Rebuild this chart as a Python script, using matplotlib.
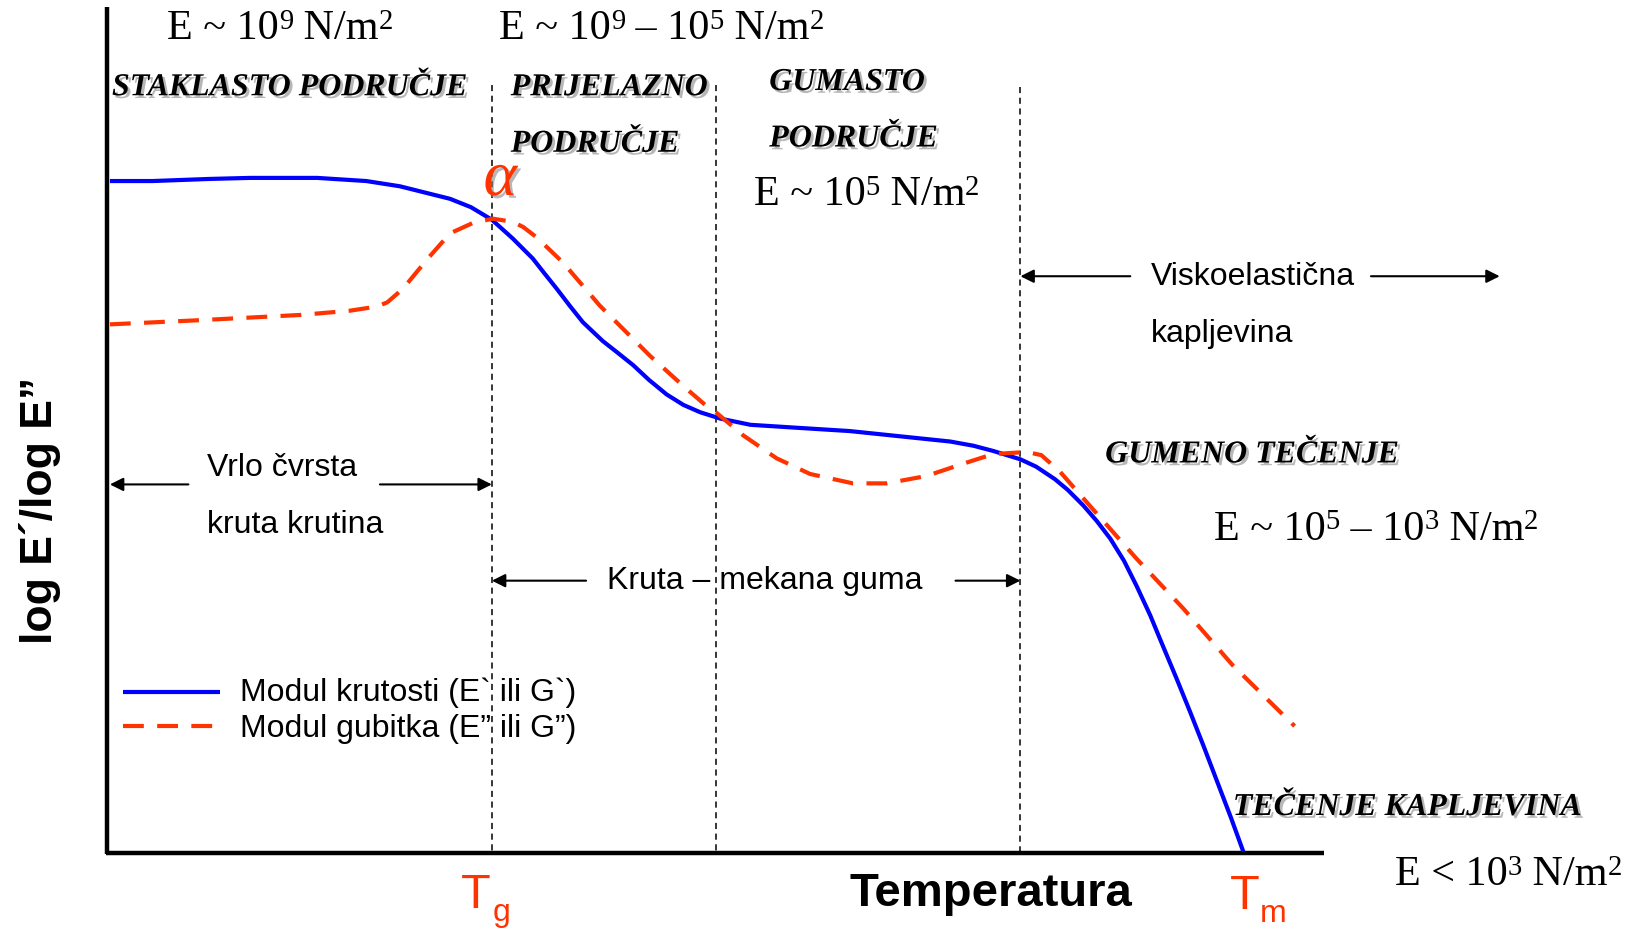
import matplotlib
matplotlib.use('Agg')
import matplotlib.pyplot as plt
import matplotlib.patheffects as pe

# Reference layout units (shown-image pixels, y downward)
W, H = 1568, 888

# Storage modulus (blue, solid): temperature position vs log E' (schematic)
storage_T = [105, 146, 200, 239, 303, 350, 382, 410, 430, 450, 470, 490, 509, 520,
             532, 545, 557, 576, 590, 605, 620, 637, 653, 669, 688, 717, 764, 812,
             860, 908, 930, 949, 962, 975, 990, 1008, 1020, 1035, 1048, 1061, 1074,
             1086, 1099, 1111, 1124, 1137, 1150, 1163, 1176, 1188]
storage_E = [174, 174, 172, 171, 171, 174, 179, 186, 191, 199, 211, 229, 248, 262,
             277, 294, 309, 327, 338, 350, 364, 378, 388, 395, 401, 407, 410, 413,
             418, 423, 427, 432, 436, 440, 447, 459, 469, 484, 499, 516, 537,
             561, 589, 618, 649, 681, 714, 748, 782, 815]

# Loss modulus (red, dashed)
loss_T = [105, 191, 287, 334, 360, 370, 385, 408, 430, 452, 471, 490, 500, 513,
          538, 573, 621, 653, 675, 684, 710, 742, 774, 815, 847, 885, 924, 949,
          981, 995, 1013, 1041, 1086, 1131, 1178, 1237]
loss_E = [311, 307, 302, 298, 294, 290, 277, 249, 224, 214, 210, 213, 218, 228,
          252, 293, 341, 370, 389, 395, 417, 439, 454, 463, 463, 456, 443, 435,
          433, 436, 452, 484, 535, 583, 637, 695]

region_bounds = [470, 684, 975]
legend_labels = ['Modul krutosti (E` ili G`)', 'Modul gubitka (E\u201d ili G\u201d)']
region_names = ['STAKLASTO PODRU\u010cJE', 'PRIJELAZNO', 'PODRU\u010cJE', 'GUMASTO',
                'PODRU\u010cJE', 'GUMENO TE\u010cENJE', 'TE\u010cENJE KAPLJEVINA']
modulus_ranges = [
    [('E ~ 10', 0), ('9', 1), (' N/m', 0), ('2', 1)],
    [('E ~ 10', 0), ('9', 1), (' \u2013 10', 0), ('5', 1), (' N/m', 0), ('2', 1)],
    [('E ~ 10', 0), ('5', 1), (' N/m', 0), ('2', 1)],
    [('E ~ 10', 0), ('5', 1), (' \u2013 10', 0), ('3', 1), (' N/m', 0), ('2', 1)],
    [('E < 10', 0), ('3', 1), (' N/m', 0), ('2', 1)],
]
x_title = 'Temperatura'
y_title = 'log E\u00b4/log E\u201d'

BLUE = '#0000FF'
RED = '#FF3300'
SANS = 'Liberation Sans'
SERIF = 'Liberation Serif'

fig = plt.figure(figsize=(16.41, 9.29), dpi=100)
ax = fig.add_axes([0, 0, 1, 1])
ax.set_xlim(0, W)
ax.set_ylim(H, 0)
ax.axis('off')
renderer = fig.canvas.get_renderer()
sx = fig.bbox.width / W
sy = fig.bbox.height / H

# axes lines
ax.plot([102.5, 102.5], [8, 817], color='k', lw=3.2, solid_capstyle='butt')
ax.plot([101, 1265], [816, 816], color='k', lw=3.2, solid_capstyle='butt')

# dashed region boundaries
for xb, y0 in zip(region_bounds, [82, 82, 84]):
    ax.plot([xb, xb], [y0, 815], color='k', lw=1.1, dashes=(4, 3))

# curves
ax.plot(storage_T, storage_E, color=BLUE, lw=3.0, solid_capstyle='butt',
        solid_joinstyle='round')
ax.plot(loss_T, loss_E, color=RED, lw=3.0, dashes=(5, 3.2), dash_joinstyle='round')

# legend
ax.plot([118, 210], [662, 662], color=BLUE, lw=3.0, solid_capstyle='butt')
ax.plot([118, 210], [695, 695], color=RED, lw=3.0, dashes=(5, 3.2))


def sans(x, y, s, size=23):
    ax.text(x, y, s, fontsize=size, family=SANS, va='center', ha='left')


sans(229, 662, legend_labels[0])
sans(229, 697, legend_labels[1])


# serif modulus labels with real superscripts
def measure(s, **kw):
    t = ax.text(0, 0, s + '|', **kw)
    w1 = t.get_window_extent(renderer).width
    t.set_text('|')
    w2 = t.get_window_extent(renderer).width
    t.remove()
    return (w1 - w2) / sx


def rich(x, base_y, parts, size=30.3):
    cx = x
    for s, sup in parts:
        fs = size * 0.68 if sup else size
        yy = base_y - (0.25 * size * 100 / 72) / sy if sup else base_y
        ax.text(cx, yy, s, fontsize=fs, family=SERIF, va='baseline', ha='left')
        cx += measure(s, fontsize=fs, family=SERIF)


rich(160, 37.6, modulus_ranges[0])
rich(477, 37.6, modulus_ranges[1])
rich(720, 196, modulus_ranges[2])
rich(1160, 516, modulus_ranges[3])
rich(1333, 846, modulus_ranges[4])

# bold italic region names with shadow
shadow = [pe.SimplePatchShadow(offset=(2, -2), shadow_rgbFace='#888888', alpha=0.6), pe.Normal()]


def region(x, y, s):
    ax.text(x, y, s, fontsize=23, family=SERIF, weight='bold', style='italic',
            va='baseline', ha='left', path_effects=shadow)


region(107, 92, region_names[0])
region(488, 92, region_names[1])
region(488, 146, region_names[2])
region(735, 87, region_names[3])
region(735, 141, region_names[4])
region(1056, 443, region_names[5])
region(1178, 780, region_names[6])

# alpha
ax.text(478, 173, '\u03b1', fontsize=46, family=SERIF, style='italic',
        color=RED, va='center', ha='center', path_effects=shadow)


# arrows with text
def arrow(x_tail, x_head, y):
    ax.annotate('', xy=(x_head, y), xytext=(x_tail, y),
                arrowprops=dict(arrowstyle='-|>', color='k', lw=1.5,
                                mutation_scale=20, shrinkA=0, shrinkB=0))


sans(198, 447, 'Vrlo \u010dvrsta')
sans(198, 502, 'kruta krutina')
arrow(180, 105, 464)
arrow(363, 470, 464)

sans(580, 555, 'Kruta \u2013 mekana guma')
arrow(560, 470, 556)
arrow(913, 975, 556)

sans(1100, 265, 'Viskoelasti\u010dna')
sans(1100, 319, 'kapljevina')
arrow(1080, 975, 265)
arrow(1310, 1433, 265)

# axis titles
ax.text(38, 488, y_title, fontsize=32, family=SANS, weight='bold',
        rotation=90, va='center', ha='center')
ax.text(947, 855, x_title, fontsize=34, family=SANS, weight='bold',
        va='center', ha='center')

# Tg / Tm
ax.text(455, 856, 'T', fontsize=35, family=SANS, color=RED, va='center', ha='center')
ax.text(471, 873, 'g', fontsize=23, family=SANS, color=RED, va='center', ha='left')
ax.text(1189, 857, 'T', fontsize=35, family=SANS, color=RED, va='center', ha='center')
ax.text(1204, 874, 'm', fontsize=23, family=SANS, color=RED, va='center', ha='left')

fig.savefig('out.png', dpi=100)
